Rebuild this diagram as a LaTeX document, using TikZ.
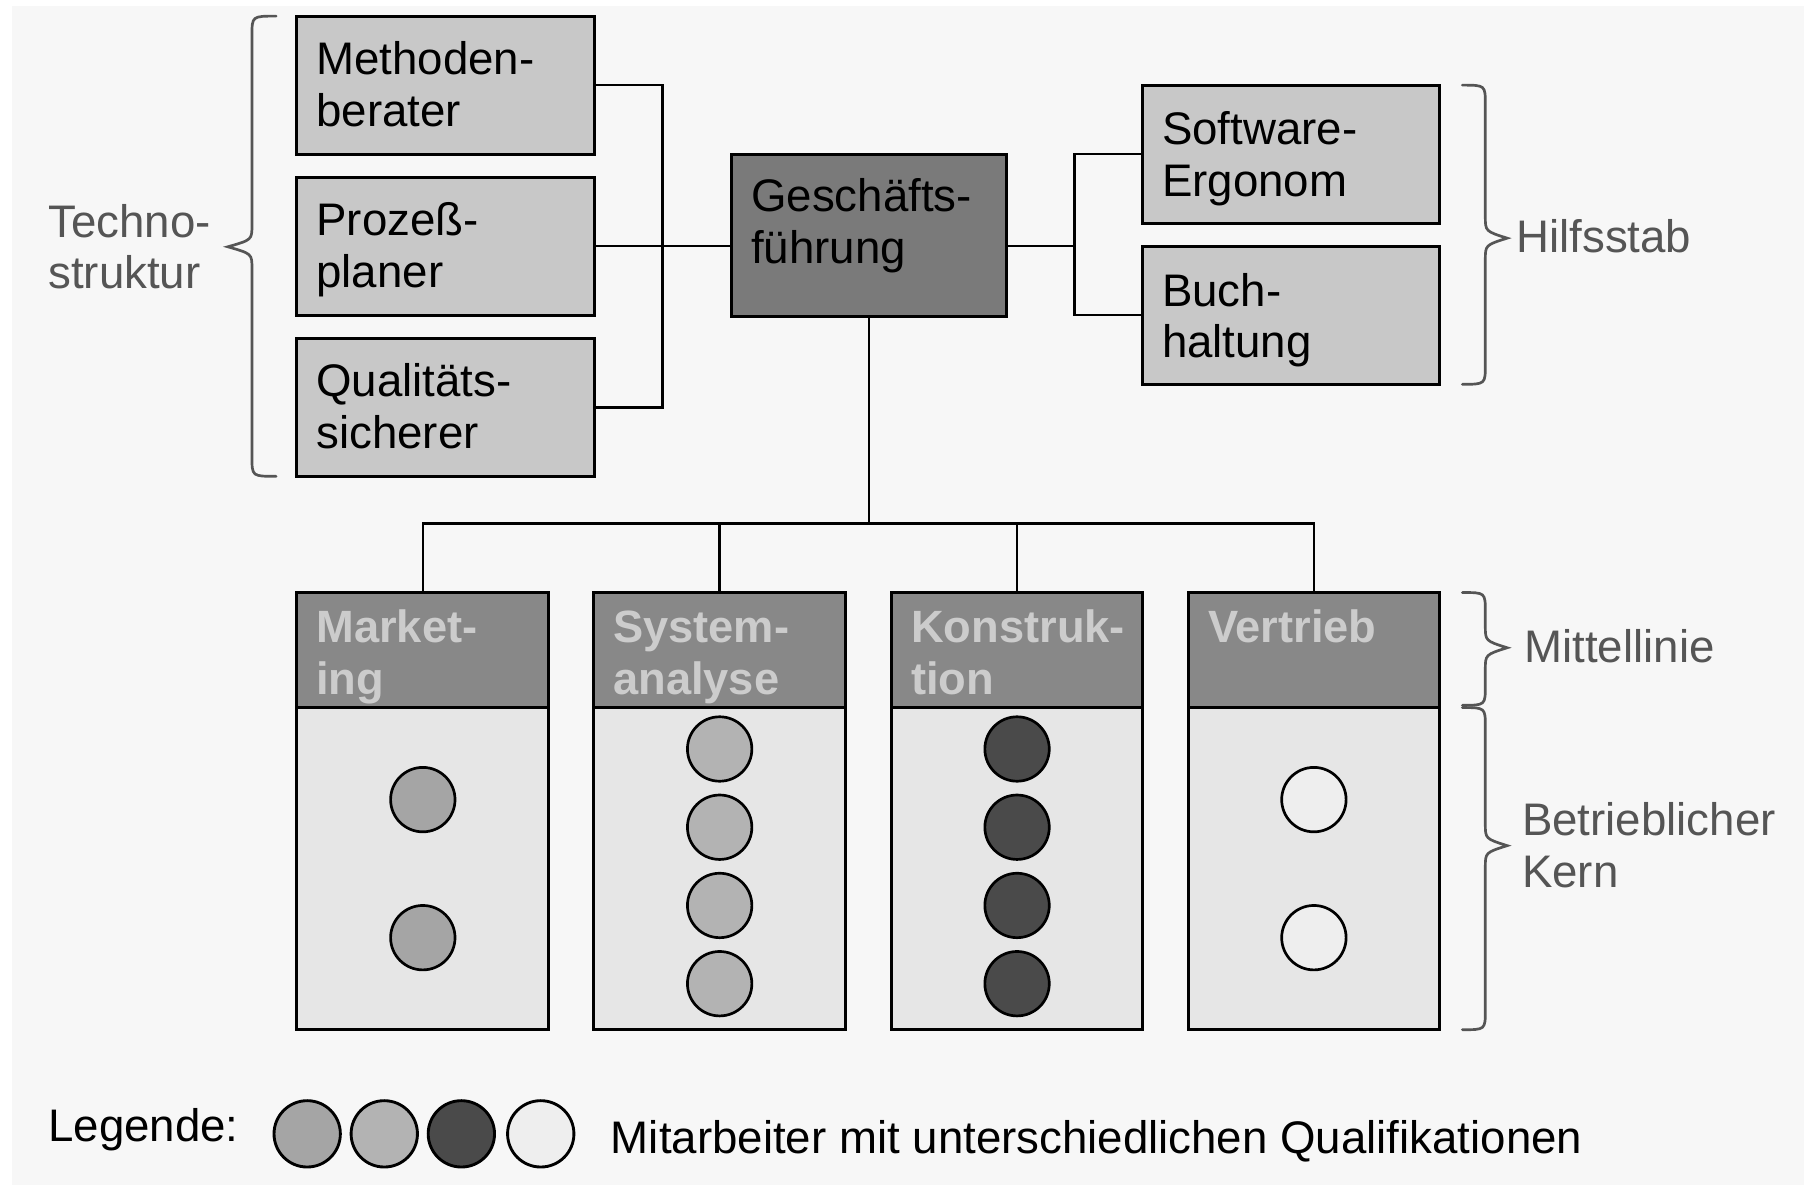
\documentclass[tikz,border=0pt]{standalone}
\usepackage{fontspec}
\setmainfont{Liberation Sans}
\usetikzlibrary{calc,fit}

\definecolor{pagebg}{HTML}{F7F7F7}
\definecolor{staffgray}{HTML}{C8C8C8}
\definecolor{topgray}{HTML}{7A7A7A}
\definecolor{headgray}{HTML}{888888}
\definecolor{headtext}{HTML}{CCCCCC}
\definecolor{bodygray}{HTML}{E6E6E6}
\definecolor{labelgray}{HTML}{555555}
\definecolor{qualA}{HTML}{A5A5A5}
\definecolor{qualB}{HTML}{B3B3B3}
\definecolor{qualC}{HTML}{4A4A4A}
\definecolor{qualD}{HTML}{EEEEEE}

% brace: ends at x0, spine at x1, tip at x2; top yt, tip ym, bottom yb
\newcommand\drawbrace[6]{%
  \draw[bracestyle] (#1,#4) .. controls (#2,#4) .. (#2,#4+17)
    -- (#2,#5-19) .. controls (#2,#5-6) .. (#3,#5)
    .. controls (#2,#5+6) .. (#2,#5+19)
    -- (#2,#6-17) .. controls (#2,#6) .. (#1,#6);}

\begin{document}
\begin{tikzpicture}[x=0.6pt,y=-0.6pt,
  box/.style={draw=black, line width=1.5pt, inner sep=0pt, outer sep=0pt},
  staff/.style={box, fill=staffgray},
  apex/.style={box, fill=topgray},
  head/.style={box, fill=headgray},
  body/.style={box, fill=bodygray},
  txt/.style={font=\fontsize{23.8}{27}\selectfont, inner sep=0pt, outer sep=0pt,
              anchor=north west, align=left},
  headtxt/.style={txt, font=\fontsize{23.6}{27}\selectfont\bfseries, text=headtext},
  lbl/.style={txt, text=labelgray},
  link/.style={draw=black, line width=1.3pt},
  bracestyle/.style={draw=labelgray, line width=1.4pt, line cap=round},
  worker/.style={circle, draw=black, line width=1.4pt, inner sep=0pt, minimum size=33.6pt},
  legdot/.style={circle, draw=black, line width=1.5pt, inner sep=0pt, minimum size=34.6pt}]

\useasboundingbox (0,0) rectangle (1568,1030);
\fill[white] (0,0) rectangle (1568,1030);
\fill[pagebg] (10.4,5.2) rectangle (1568,1030);

% staff units on the left
\node[staff, fit={(258,14) (517,134)}] (mb) {};
\node[staff, fit={(258,154) (517,274)}] (pp) {};
\node[staff, fit={(258,294) (517,414)}] (qs) {};
\node[txt] (mbt) at ($(mb.north west)+(17,19.5)$) {\strut Methoden-\\berater};
\node[txt] (ppt) at ($(pp.north west)+(17,19.5)$) {\strut Prozeß-\\planer};
\node[txt] (qst) at ($(qs.north west)+(17,19.5)$) {\strut Qualitäts-\\sicherer};

% strategic apex
\node[apex, fit={(636,134) (875,275)}] (gf) {};
\node[txt] (gft) at ($(gf.north west)+(17,18.5)$) {\strut Geschäfts-\\führung};

% support staff on the right
\node[staff, fit={(993,74) (1251,194)}] (se) {};
\node[staff, fit={(993,214) (1251,334)}] (bh) {};
\node[txt] (set) at ($(se.north west)+(17,20.5)$) {\strut Software-\\Ergonom};
\node[txt] (bht) at ($(bh.north west)+(17,20.5)$) {\strut Buch-\\haltung};

% departments: middle line header and operating core body
\node[head, fit={(258,515) (477,615)}] (mkh) {};
\node[body, fit={(258,615) (477,895)}] (mkb) {};
\node[head, fit={(516,515) (735,615)}] (sah) {};
\node[body, fit={(516,615) (735,895)}] (sab) {};
\node[head, fit={(775,515) (993,615)}] (koh) {};
\node[body, fit={(775,615) (993,895)}] (kob) {};
\node[head, fit={(1033,515) (1251,615)}] (vth) {};
\node[body, fit={(1033,615) (1251,895)}] (vtb) {};

\node[headtxt] (mkt) at ($(mkh.north west)+(17,12)$) {\strut Market-\\ing};
\node[headtxt] (sat) at ($(sah.north west)+(17,12)$) {\strut System-\\analyse};
\node[headtxt] (kot) at ($(koh.north west)+(17,12)$) {\strut Konstruk-\\tion};
\node[headtxt] (vtt) at ($(vth.north west)+(17,12)$) {\strut Vertrieb};

% employees
\node[worker, fill=qualA] (mk1) at (367.5,695) {};
\node[worker, fill=qualA] (mk2) at (367.5,815) {};
\foreach \i/\yy in {1/651,2/719,3/787,4/855}{
  \node[worker, fill=qualB] (sa\i) at (625.5,\yy) {};
  \node[worker, fill=qualC] (ko\i) at (884,\yy) {};
}
\node[worker, fill=qualD] (vt1) at (1142,695) {};
\node[worker, fill=qualD] (vt2) at (1142,815) {};

% connectors
\coordinate (lj) at (576,214);
\coordinate (rj) at (934,214);
\coordinate (bus) at (755.5,455);
\draw[link] (mb.east) -| (lj);
\draw[link] (qs.east) -| (lj);
\draw[link] (pp.east) -- (pp.east -| gf.west);
\draw[link] (pp.east -| gf.east) -- (rj);
\draw[link] (se.west) -| (rj);
\draw[link] (bh.west) -| (rj);
\draw[link] (gf.south) -- (bus);
\draw[link] (mkh.north) |- (bus);
\draw[link] (vth.north) |- (bus);
\draw[link] (sah.north) -- (sah.north |- bus);
\draw[link] (koh.north) -- (koh.north |- bus);

% braces and their labels
\drawbrace{240}{219}{198}{14}{214.5}{414}
\drawbrace{1271}{1291}{1310}{74}{207}{334}
\drawbrace{1271}{1291}{1310}{515}{563}{613}
\drawbrace{1271}{1291}{1310}{615}{735}{895}
\node[lbl] (tech) at (42,174.5) {\strut Techno-\\struktur};
\node[lbl] (hilf) at (1318,188) {\strut Hilfsstab};
\node[lbl] (mitt) at (1325,544) {\strut Mittellinie};
\node[lbl] (kern) at (1323,694.5) {\strut Betrieblicher\\Kern};

% legend
\node[txt] (leg) at (42,961) {\strut Legende:};
\node[legdot, fill=qualA] (l1) at (267,985.5) {};
\node[legdot, fill=qualB] (l2) at (334,985.5) {};
\node[legdot, fill=qualC] (l3) at (401,985.5) {};
\node[legdot, fill=qualD] (l4) at (470,985.5) {};
\node[txt] (legt) at (531,971) {\strut Mitarbeiter mit unterschiedlichen Qualifikationen};

\end{tikzpicture}
\end{document}
